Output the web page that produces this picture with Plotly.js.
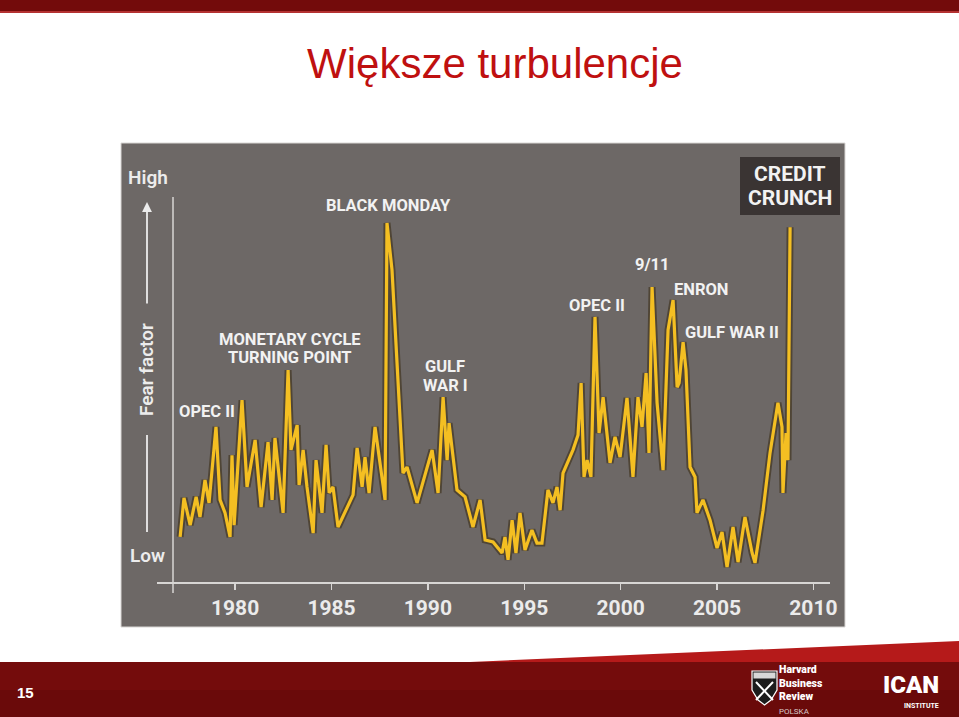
<!DOCTYPE html>
<html>
<head>
<meta charset="utf-8">
<script src="https://cdn.plot.ly/plotly-3.0.1.min.js"></script>
<style>
  html, body { margin: 0; padding: 0; background: #ffffff; }
  #chart { width: 959px; height: 717px; }
</style>
</head>
<body>
<div id="chart"></div>
<script>
// ---- data ----
const years = [
  1977.15, 1977.35, 1977.67, 1977.98, 1978.18, 1978.44, 1978.65, 1979.01, 1979.22, 1979.48,
  1979.74, 1979.84, 1979.95, 1980.36, 1980.62, 1981.04, 1981.35, 1981.71, 1981.92, 1982.07,
  1982.49, 1982.75, 1982.90, 1983.22, 1983.32, 1983.53, 1983.73, 1984.05, 1984.20, 1984.51,
  1984.72, 1984.88, 1985.08, 1985.34, 1986.12, 1986.33, 1986.59, 1986.74, 1986.95, 1987.26,
  1987.78, 1987.88, 1988.14, 1988.56, 1988.71, 1988.92, 1989.44, 1990.22, 1990.53, 1990.79,
  1991.00, 1991.10, 1991.51, 1991.93, 1992.34, 1992.71, 1992.97, 1993.38, 1993.85, 1994.00,
  1994.16, 1994.37, 1994.57, 1994.78, 1995.04, 1995.40, 1995.66, 1995.92, 1996.23, 1996.49,
  1996.70, 1996.86, 1997.01, 1997.53, 1997.79, 1997.95, 1998.10, 1998.26, 1998.46, 1998.67,
  1998.88, 1999.09, 1999.45, 1999.71, 1999.97, 2000.33, 2000.64, 2000.90, 2001.11, 2001.32,
  2001.47, 2001.63, 2001.89, 2002.20, 2002.46, 2002.72, 2002.93, 2003.03, 2003.24, 2003.39,
  2003.60, 2003.86, 2003.96, 2004.27, 2004.64, 2005.00, 2005.26, 2005.52, 2005.83, 2006.09,
  2006.45, 2006.82, 2006.97, 2007.39, 2007.75, 2008.16, 2008.37, 2008.42, 2008.58, 2008.68,
  2008.79
];
const fear = [
  11.8, 22.0, 14.9, 22.3, 17.0, 26.7, 20.7, 40.6, 21.5, 18.1,
  11.8, 33.2, 14.9, 47.6, 24.9, 37.2, 19.6, 36.6, 21.5, 37.7,
  18.1, 55.5, 34.6, 41.1, 25.4, 34.6, 24.9, 12.8, 31.9, 18.1,
  35.9, 23.3, 24.9, 14.4, 22.8, 35.1, 24.9, 32.7, 23.3, 40.6,
  21.5, 94.0, 81.7, 41.6, 28.5, 30.1, 20.7, 34.6, 23.3, 48.4,
  31.9, 41.6, 24.1, 22.3, 14.4, 21.5, 11.0, 10.5, 7.6, 11.8,
  5.8, 16.2, 7.6, 18.1, 8.4, 13.6, 10.2, 10.2, 24.1, 20.7,
  24.9, 18.8, 28.5, 34.6, 38.5, 52.1, 27.5, 31.9, 27.5, 69.4,
  39.0, 48.4, 31.2, 38.0, 32.7, 48.2, 27.5, 48.4, 40.6, 54.7,
  33.8, 77.2, 46.9, 29.3, 66.0, 73.8, 51.0, 52.1, 62.8, 55.5,
  30.1, 27.5, 18.1, 21.5, 16.2, 8.9, 13.1, 3.9, 14.4, 5.2,
  17.0, 7.6, 5.0, 18.8, 33.8, 46.9, 40.6, 23.3, 39.0, 31.9,
  92.9
];
const tickYears = [1980, 1985, 1990, 1995, 2000, 2005, 2010];
const tickLabels = ['1980', '1985', '1990', '1995', '2000', '2005', '2010'];
const eventLabels = ['OPEC II', 'MONETARY CYCLE', 'TURNING POINT', 'BLACK MONDAY', 'GULF', 'WAR I',
                     'OPEC II', '9/11', 'ENRON', 'GULF WAR II'];
const boxLabels = ['CREDIT', 'CRUNCH'];
const titleText = 'Większe turbulencje';
const axisWords = ['High', 'Fear factor', 'Low'];
const slideNumber = '15';
const hbrWords = ['Harvard', 'Business', 'Review', 'POLSKA'];
const icanWords = ['ICAN', 'INSTITUTE'];

// ---- layout geometry (page pixels -> paper coords) ----
const W = 959, H = 717;
const L = 157, R = 830, T = 197, B = 582;
const PW = R - L, PH = B - T;
const px = v => (v - L) / PW;
const py = v => (B - v) / PH;

function rect(x0, y0, x1, y1, fill, extra) {
  return Object.assign({type: 'rect', xref: 'paper', yref: 'paper',
    x0: px(x0), x1: px(x1), y0: py(y1), y1: py(y0),
    fillcolor: fill, line: {width: 0}, layer: 'below'}, extra || {});
}
function line(x0, y0, x1, y1, color, w) {
  return {type: 'line', xref: 'paper', yref: 'paper',
    x0: px(x0), x1: px(x1), y0: py(y0), y1: py(y1),
    line: {color: color, width: w}, layer: 'above'};
}
function path(pts, fill, lc, lw) {
  const d = pts.map((p, i) => (i ? 'L' : 'M') + px(p[0]).toFixed(5) + ',' + py(p[1]).toFixed(5)).join(' ') + ' Z';
  return {type: 'path', xref: 'paper', yref: 'paper', path: d,
    fillcolor: fill, line: {color: lc || fill, width: lw || 0}, layer: 'above'};
}
function label(text, x, y, size, opts) {
  return Object.assign({xref: 'paper', yref: 'paper', x: px(x), y: py(y),
    text: text, showarrow: false, xanchor: 'center', yanchor: 'middle',
    font: {family: 'Roboto, "DejaVu Sans", sans-serif', size: size, color: '#f2f2f2', weight: 700}}, opts || {});
}

const labelFont = 16.5;
const eventPos = [[207, 411], [290, 339], [290, 357], [388, 205], [445, 366], [445, 385],
                  [597, 305], [652, 264], [701, 289], [732, 332]];

const annotations = [];
eventLabels.forEach((t, i) => annotations.push(label(t, eventPos[i][0], eventPos[i][1], labelFont)));
annotations.push(label(boxLabels[0], 790, 174, 21));
annotations.push(label(boxLabels[1], 790, 198, 21));
const sideFont = {family: 'Roboto, sans-serif', size: 19, color: '#ececec', weight: 600};
annotations.push(label(axisWords[0], 148, 177, 19, {font: sideFont}));
annotations.push(label(axisWords[2], 147, 555, 19, {font: sideFont}));
annotations.push(label(axisWords[1], 146, 370, 19, {textangle: -90, font: sideFont}));
// arrow up
annotations.push({xref: 'paper', yref: 'paper', x: px(147), y: py(202), ax: 0, ay: 103,
  text: '', showarrow: true, arrowhead: 2, arrowsize: 1.1, arrowwidth: 1.8, arrowcolor: '#ececec'});
// footer texts
annotations.push(label(slideNumber, 25, 692, 15, {font: {family: '"Liberation Sans", Arial, sans-serif', size: 15, color: '#ffffff', weight: 700}}));
annotations.push(label(
  hbrWords[0] + '<br>' + hbrWords[1] + '<br>' + hbrWords[2] +
  '<br><span style="font-size:8px;font-weight:400;fill:#d6c8c8">' + hbrWords[3] + '</span>',
  778, 689, 10.5,
  {xanchor: 'left', align: 'left', borderpad: 0,
   font: {family: 'Roboto, sans-serif', size: 10.5, color: '#ffffff', weight: 900}}));
annotations.push(label(icanWords[0], 940, 685, 24,
  {xanchor: 'right', borderpad: 0,
   font: {family: 'Roboto, sans-serif', size: 24, color: '#ffffff', weight: 900}}));
annotations.push(label(icanWords[1], 940, 706, 7,
  {xanchor: 'right', borderpad: 0,
   font: {family: 'Roboto, sans-serif', size: 7, color: '#ffffff', weight: 700}}));

const shapes = [
  // top bar
  rect(0, 0, W, 11, '#730b0b'),
  rect(0, 11, W, 13, '#b43232'),
  // grey chart panel
  rect(121, 143, 845, 627, '#6d6866', {line: {color: '#d9d6d4', width: 1}}),
  // credit crunch box
  rect(740, 157, 840, 215, '#3a3433'),
  // bottom band
  rect(0, 662, W, 717, '#6a0a0a'),
  rect(0, 662, W, 690, '#740c0c'),
  path([[470, 662], [W, 641], [W, 662]], '#b51a1a'),
  // y axis line
  line(173, 197, 173, 593, '#d8d6d4', 1.5),
  // lower fear-factor stroke
  line(147, 435, 147, 532, '#ececec', 1.8),
  // Harvard shield
  path([[752, 671], [777, 671], [777, 690], [771, 700], [764.5, 705], [758, 700], [752, 690]], '#1c1c1c', '#ffffff', 1.2),
  rect(753.5, 672.5, 775.5, 678.5, '#d8d8d8', {layer: 'above'}),
  line(756, 682, 773, 700, '#ffffff', 2),
  line(773, 682, 756, 700, '#ffffff', 2)
];

const traces = [
  { // soft dark shadow under the line
    x: years, y: fear, type: 'scatter', mode: 'lines',
    line: {color: 'rgba(55,40,15,0.55)', width: 7, shape: 'linear'},
    hoverinfo: 'skip', showlegend: false
  },
  {
    x: years, y: fear, type: 'scatter', mode: 'lines',
    line: {color: '#f4bf22', width: 3.2, shape: 'linear'},
    showlegend: false
  }
];

const layout = {
  width: W, height: H,
  margin: {l: L, r: W - R, t: T, b: H - B, pad: 0},
  paper_bgcolor: '#ffffff',
  plot_bgcolor: 'rgba(0,0,0,0)',
  showlegend: false,
  title: {
    text: titleText, x: 495 / W, y: 1 - 63 / H, xref: 'container', yref: 'container',
    xanchor: 'center', yanchor: 'middle',
    font: {family: '"Liberation Sans", Arial, sans-serif', size: 42, color: '#bf1010'}
  },
  xaxis: {
    range: [1975.95, 2010.86], tickvals: tickYears, ticktext: tickLabels,
    showgrid: false, zeroline: false, showline: true, linecolor: '#d8d6d4', linewidth: 2,
    ticks: 'outside', ticklen: 6, tickwidth: 1.5, tickcolor: '#d8d6d4',
    ticklabelstandoff: 0,
    tickfont: {family: 'Roboto, sans-serif', size: 21, color: '#ebebeb', weight: 700},
    fixedrange: true
  },
  yaxis: {
    range: [0, 100.8], visible: false, showgrid: false, zeroline: false, fixedrange: true
  },
  shapes: shapes,
  annotations: annotations
};

Plotly.newPlot('chart', traces, layout, {displayModeBar: false, staticPlot: true});
</script>
</body>
</html>
